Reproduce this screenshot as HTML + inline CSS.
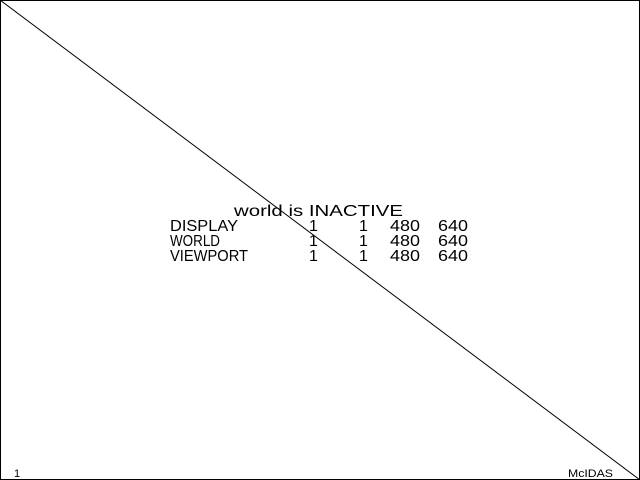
<!DOCTYPE html>
<html><head><style>html,body{margin:0;padding:0;background:#fff}svg{display:block}</style></head>
<body>
<svg width="640" height="480" xmlns="http://www.w3.org/2000/svg" font-family="Liberation Sans, sans-serif" fill="#000">
<rect x="0.5" y="0.5" width="639" height="479" fill="none" stroke="#000" stroke-width="1"/>
<line x1="0" y1="0" x2="640" y2="480" stroke="#000" stroke-width="1"/>
<g font-size="16" style="font-weight:300">
<text x="234" y="216" textLength="169" lengthAdjust="spacingAndGlyphs">world is INACTIVE</text>
<text x="170" y="231" textLength="68" lengthAdjust="spacingAndGlyphs">DISPLAY</text>
<text x="170" y="246" textLength="50" lengthAdjust="spacingAndGlyphs">WORLD</text>
<text x="170" y="261" textLength="78" lengthAdjust="spacingAndGlyphs">VIEWPORT</text>
<g>
<text x="309" y="231">1</text><text x="359" y="231">1</text>
<text x="390" y="231" textLength="30" lengthAdjust="spacingAndGlyphs">480</text><text x="438" y="231" textLength="30" lengthAdjust="spacingAndGlyphs">640</text>
<text x="309" y="246">1</text><text x="359" y="246">1</text>
<text x="390" y="246" textLength="30" lengthAdjust="spacingAndGlyphs">480</text><text x="438" y="246" textLength="30" lengthAdjust="spacingAndGlyphs">640</text>
<text x="309" y="261">1</text><text x="359" y="261">1</text>
<text x="390" y="261" textLength="30" lengthAdjust="spacingAndGlyphs">480</text><text x="438" y="261" textLength="30" lengthAdjust="spacingAndGlyphs">640</text>
</g>
</g>
<text x="14" y="477" font-size="11">1</text>
<text x="568" y="477" font-size="11" textLength="45" lengthAdjust="spacingAndGlyphs">McIDAS</text>
</svg>
</body></html>
